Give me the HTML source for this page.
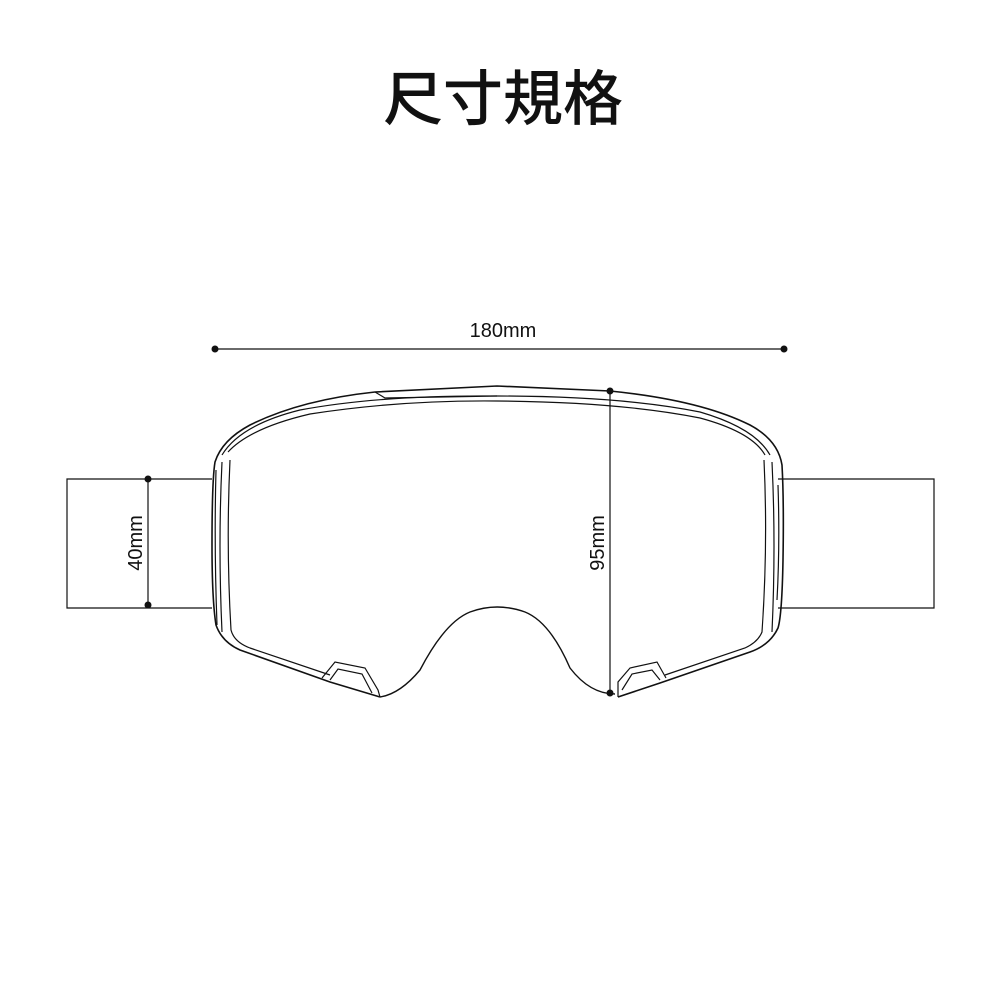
<!DOCTYPE html>
<html><head><meta charset="utf-8"><style>
html,body{margin:0;padding:0;background:#fff;}
svg{display:block;}
</style></head><body>
<svg width="1000" height="1000" viewBox="0 0 1000 1000" xmlns="http://www.w3.org/2000/svg">
<text x="503" y="120" text-anchor="middle" font-family="'Liberation Sans','Noto Sans CJK TC',sans-serif" font-size="60" font-weight="500" fill="#111">尺寸規格</text>
<text x="503" y="337" text-anchor="middle" font-family="'Liberation Sans',sans-serif" font-size="20" fill="#111">180mm</text>
<g stroke="#111" fill="none" stroke-width="1.2">
<line x1="215" y1="349" x2="784" y2="349"/>
<polyline points="212,479 67,479 67,608 212,608"/>
<polyline points="778,479 934,479 934,608 778,608"/>
<line x1="148" y1="479" x2="148" y2="605"/>
<line x1="610" y1="391" x2="610" y2="693"/>
<path d="M380,697 L370,694 L330,682 L240,650 Q222,642 216,625 Q212,600 212,545 Q212,480 215,462 Q222,440 250,425 Q300,400 375,392 L497,386 L610,391 Q700,400 750,425 Q778,440 782,465 Q784,500 783,560 Q782,615 778,628 Q770,645 750,652 L660,683 L618,697" stroke-width="1.6"/>
<path d="M222,455 Q240,425 300,410 Q380,395 497,396 Q620,396 700,412 Q755,428 770,455" />
<path d="M228,452 Q250,428 310,414 Q400,400 497,401 Q620,402 700,418 Q752,432 765,455"/>
<path d="M375,392 L385,398 L497,396"/>
<path d="M230,460 Q226,545 231,630 Q234,642 250,648 L330,675"/>
<path d="M222,462 Q218,545 222,632"/>
<path d="M216,470 Q214,545 217,625"/>
<path d="M764,460 Q768,545 762,632 Q758,642 745,648 L665,675"/>
<path d="M772,462 Q776,545 772,632"/>
<path d="M778,485 Q780,545 777,600"/>
<path d="M380,697 Q400,694 420,670 Q445,622 470,612 Q497,602 525,612 Q550,622 570,668 Q590,694 615,694" stroke-width="1.4"/>
<path d="M322,678 L335,662 L365,668 L378,690 L380,697"/>
<path d="M330,680 L338,669 L362,674 L372,693"/>
<path d="M666,678 L657,662 L630,668 L618,682 L618,697"/>
<path d="M660,680 L652,670 L632,674 L622,690"/>
</g>
<g fill="#111">
<circle cx="215" cy="349" r="3.5"/><circle cx="784" cy="349" r="3.5"/>
<circle cx="148" cy="479" r="3.5"/><circle cx="148" cy="605" r="3.5"/>
<circle cx="610" cy="391" r="3.5"/><circle cx="610" cy="693" r="3.5"/>
</g>
<text transform="translate(142,543) rotate(-90)" text-anchor="middle" font-family="'Liberation Sans',sans-serif" font-size="20" fill="#111">40mm</text>
<text transform="translate(604,543) rotate(-90)" text-anchor="middle" font-family="'Liberation Sans',sans-serif" font-size="20" fill="#111">95mm</text>
</svg>
</body></html>
